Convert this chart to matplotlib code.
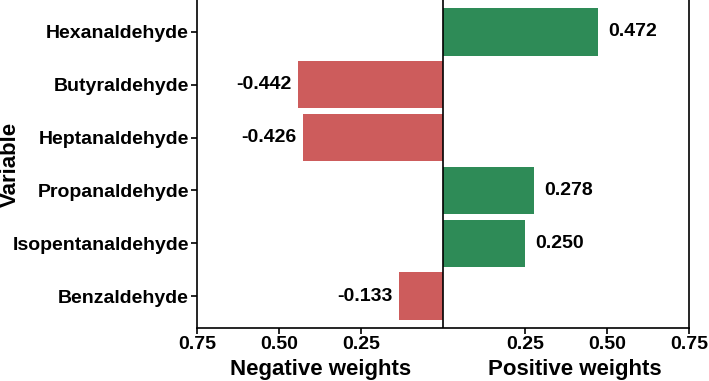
import matplotlib
matplotlib.use('Agg')
import matplotlib.pyplot as plt
from matplotlib.ticker import FuncFormatter

variables = ['Hexanaldehyde', 'Butyraldehyde', 'Heptanaldehyde',
             'Propanaldehyde', 'Isopentanaldehyde', 'Benzaldehyde']
weights = [0.472, -0.442, -0.426, 0.278, 0.250, -0.133]
xticks = [-0.75, -0.50, -0.25, 0.25, 0.50, 0.75]

plt.rcParams['font.family'] = ['Liberation Sans', 'DejaVu Sans']
plt.rcParams['font.weight'] = 'bold'

fig = plt.figure(figsize=(7.09, 3.81), dpi=100)
ax = fig.add_axes([0.278, 0.139, 0.694, 0.861])

ypos = list(range(len(variables)))[::-1]
colors = ['#2E8B57' if w > 0 else '#CD5C5C' for w in weights]
ax.barh(ypos, weights, height=0.9, color=colors)
ax.axvline(0, color='black', lw=1.2)

for y, w in zip(ypos, weights):
	if w > 0:
		ax.annotate('%.3f' % w, (w, y), xytext=(7.5, 0), textcoords='offset points',
			ha='left', va='center', fontsize=14, fontweight='bold')
	else:
		ax.annotate('%.3f' % w, (w, y), xytext=(-5, 0), textcoords='offset points',
			ha='right', va='center', fontsize=14, fontweight='bold')

ax.set_xlim(-0.75, 0.75)
ax.set_ylim(-0.6, 5.6)
ax.set_yticks(ypos)
ax.set_yticklabels(variables, fontsize=14, fontweight='bold')
ax.set_xticks(xticks)
ax.xaxis.set_major_formatter(FuncFormatter(lambda v, p: '%.2f' % abs(v)))
for lab in ax.get_xticklabels():
	lab.set_fontsize(14)
	lab.set_fontweight('bold')
ax.tick_params(axis='both', length=4, width=1.2, pad=2)

ax.spines['top'].set_visible(False)
for s in ['left', 'right', 'bottom']:
	ax.spines[s].set_linewidth(1.2)

ax.set_ylabel('Variable', fontsize=16, fontweight='bold')
ax.yaxis.set_label_coords(-0.358, 0.5)
ax.text(-0.375, -0.143, 'Negative weights', transform=ax.get_xaxis_transform(),
	ha='center', va='baseline', fontsize=16, fontweight='bold')
ax.text(0.4, -0.143, 'Positive weights', transform=ax.get_xaxis_transform(),
	ha='center', va='baseline', fontsize=16, fontweight='bold')

fig.savefig('out.png', dpi=100)
